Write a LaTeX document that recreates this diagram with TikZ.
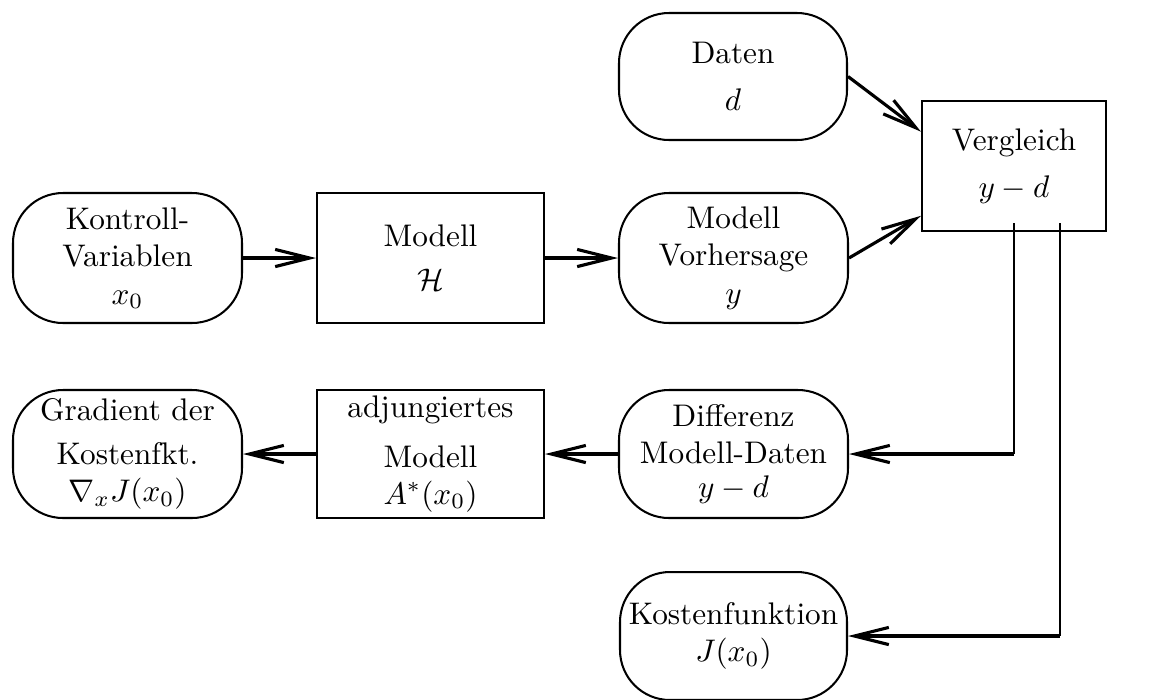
\documentclass[tikz,border=0pt]{standalone}
\usepackage{amsmath}
\usetikzlibrary{arrows.meta,calc}
\begin{document}
\begin{tikzpicture}[x=0.32pt,y=-0.32pt,
  rbox/.style={draw,line width=0.65pt,rounded corners=16pt,align=center,inner sep=0pt,minimum width=73.28pt,minimum height=41.6pt},
  sbox/.style={draw,line width=0.65pt,align=center,inner sep=0pt,minimum width=72.64pt,minimum height=41.6pt},
  arr/.style={line width=1pt,-{Straight Barb[length=11pt,width=5.5pt,line width=1pt]}},
  thin line/.style={line width=0.65pt}]
\useasboundingbox (0,0) rectangle (1151,699);
\node[rbox,minimum height=40.64pt,minimum width=72.96pt] (daten) at (733,76.5) {Daten\\[3pt]$d$};
\node[sbox,minimum width=58.88pt] (vergl) at (1014,166) {Vergleich\\[3pt]$y-d$};
\node[rbox] (kontr) at (127.5,258) {Kontroll-\\Variablen\\$x_0$};
\node[sbox] (modell) at (430.5,258) {Modell\\[2pt]$\mathcal{H}$};
\node[rbox] (vorh) at (733.5,258) {Modell\\Vorhersage\\$y$};
\node[rbox,minimum height=40.96pt] (grad) at (127.5,454) {Gradient der\\[2pt]Kostenfkt.\\$\nabla_x J(x_0)$};
\node[sbox,minimum height=40.96pt] (adj) at (430.5,454) {adjungiertes\\[4pt]Modell\\[-0.3pt]$A^*(x_0)$};
\node[rbox,minimum height=40.96pt] (diff) at (733.5,454) {Differenz\\Modell-Daten\\[-1pt]$y-d$};
\node[rbox,minimum height=40.96pt,minimum width=72.64pt] (kost) at (733.5,636) {Kostenfunktion\\$J(x_0)$};
\coordinate (v1) at (1014,223);
\coordinate (v2) at (1060,223);
\coordinate (c1) at (1014,454);
\coordinate (c2) at (1060,636);
\draw[arr] (kontr.east) -- (modell.west);
\draw[arr] (modell.east) -- (vorh.west);
\draw[arr] (daten.east) -- ($(vergl.north west)!0.24!(vergl.south west)$);
\draw[arr] (vorh.east) -- ($(vergl.north west)!0.877!(vergl.south west)$);
\draw[thin line] (v1) -- (c1);
\draw[thin line] (v2) -- (c2);
\draw[arr] (c1) -- (diff.east);
\draw[arr] (c2) -- (kost.east);
\draw[arr] (diff.west) -- (adj.east);
\draw[arr] (adj.west) -- (grad.east);
\end{tikzpicture}
\end{document}
